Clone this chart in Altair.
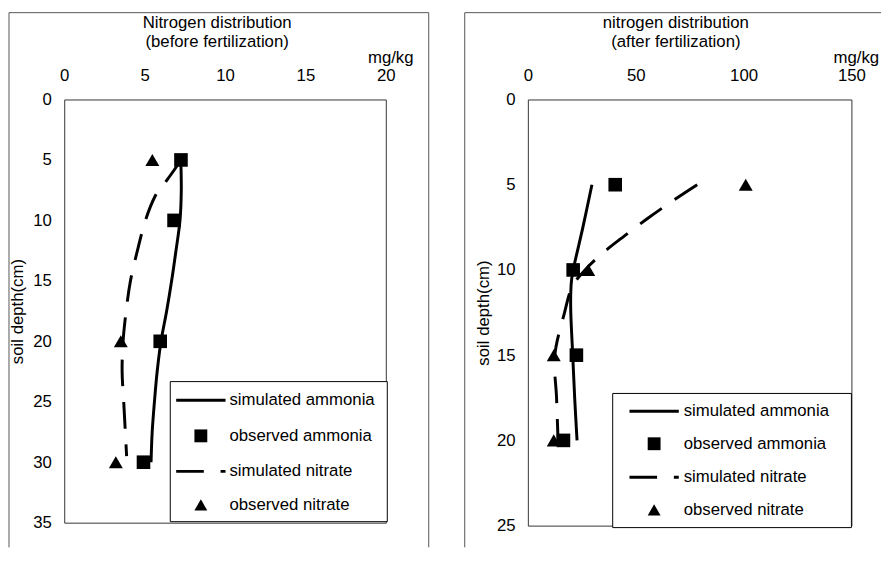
import altair as alt
import pandas as pd

FONT = "Liberation Sans"
FS = 17

# ---------------- data: left panel (before fertilization) ----------------
L_OBS_NH4_DEPTH = [5, 10, 20, 30]
L_OBS_NH4 = [7.26, 6.83, 5.97, 4.93]
L_OBS_NO3_DEPTH = [5, 20, 30]
L_OBS_NO3 = [5.48, 3.52, 3.21]
L_SIM_NH4_DEPTH = [5, 7.5, 10, 12.5, 15, 17.5, 20, 22.5, 25, 27.5, 30]
L_SIM_NH4 = [7.25, 7.28, 7.2, 6.95, 6.68, 6.37, 6.02, 5.78, 5.61, 5.47, 5.4]
L_SIM_NO3_DEPTH = [5, 6, 7, 8, 10, 12.5, 15, 17.5, 20, 22.5, 25, 27.5, 29.5]
L_SIM_NO3 = [7.25, 6.75, 6.2, 5.65, 5.05, 4.55, 4.12, 3.85, 3.66, 3.6, 3.7, 3.8, 3.88]
L_X_TICKS = [0, 5, 10, 15, 20]
L_Y_TICKS = [0, 5, 10, 15, 20, 25, 30, 35]
L_TITLE = ["Nitrogen distribution", "(before fertilization)"]

# ---------------- data: right panel (after fertilization) ----------------
R_OBS_NH4_DEPTH = [5, 10, 15, 20]
R_OBS_NH4 = [40.5, 21, 22.5, 16.5]
R_OBS_NO3_DEPTH = [5, 10, 15, 20]
R_OBS_NO3 = [101, 28, 12, 12]
R_SIM_NH4_DEPTH = [5, 7.5, 10, 11, 12.5, 15, 17.5, 20]
R_SIM_NH4 = [29.7, 25.5, 21, 20, 19.9, 20.8, 21.7, 22.8]
R_SIM_NO3_DEPTH = [5, 6, 7, 8, 9, 10, 11, 12.5, 15, 17.5, 20]
R_SIM_NO3 = [78.5, 66.5, 55.3, 44.8, 34.8, 26.5, 20.5, 17, 12.5, 13.3, 14]
R_X_TICKS = [0, 50, 100, 150]
R_Y_TICKS = [0, 5, 10, 15, 20, 25]
R_TITLE = ["nitrogen distribution", "(after fertilization)"]

UNIT = "mg/kg"
Y_TITLE = "soil depth(cm)"
LEGEND_LABELS = ["simulated ammonia", "observed ammonia", "simulated nitrate", "observed nitrate"]

DASH = [27, 16]
DUMMY = alt.Data(values=[{"d": 0}])


def frame(x, x2, y, y2):
    enc = dict(x=alt.value(x), y=alt.value(y))
    if x2 is not None:
        enc["x2"] = alt.value(x2)
    if y2 is not None:
        enc["y2"] = alt.value(y2)
    return alt.Chart(DUMMY).mark_rule(color="#555", strokeWidth=1).encode(**enc)


def panel(g, title, sim_nh4, sim_no3, obs_nh4, obs_no3, x_max, x_ticks, y_max, y_ticks, w, h):
    xs = alt.Scale(domain=[0, x_max], nice=False, zero=True)
    ys = alt.Scale(domain=[0, y_max], nice=False, reverse=True)
    xax = alt.Axis(orient="top", values=x_ticks, title=None, grid=False, domain=False,
                   ticks=False, labelPadding=15, labelFontSize=FS, labelFont=FONT,
                   labelColor="black", labelFlush=False)
    yax = alt.Axis(orient="left", values=y_ticks, title=Y_TITLE, grid=False, domain=False,
                   ticks=False, labelPadding=13, labelFontSize=FS, labelFont=FONT,
                   labelColor="black", titleFont=FONT, titleFontSize=FS,
                   titleFontWeight="normal", titleColor="black", titlePadding=g["tpad"],
                   labelFlush=False)

    def enc(ch):
        return ch.encode(x=alt.X("x:Q", scale=xs, axis=xax),
                         y=alt.Y("depth:Q", scale=ys, axis=yax))

    df_sn = pd.DataFrame({"x": sim_nh4[1], "depth": sim_nh4[0]})
    df_so = pd.DataFrame({"x": sim_no3[1], "depth": sim_no3[0]})
    df_on = pd.DataFrame({"x": obs_nh4[1], "depth": obs_nh4[0]})
    df_oo = pd.DataFrame({"x": obs_no3[1], "depth": obs_no3[0]})

    layers = []
    layers += g["frame"]
    layers.append(enc(alt.Chart(df_sn).mark_line(color="black", strokeWidth=3,
                                                   interpolate="cardinal")).encode(order="depth:Q"))
    layers.append(enc(alt.Chart(df_so).mark_line(color="black", strokeWidth=3, strokeDash=DASH,
                                                   interpolate="cardinal")).encode(order="depth:Q"))
    layers.append(enc(alt.Chart(df_on).mark_point(shape="square", filled=True, size=190,
                                                    color="black", opacity=1)))
    layers.append(enc(alt.Chart(df_oo).mark_point(shape="triangle-up", filled=True, size=200,
                                                    color="black", opacity=1)))
    lx0, lx1, ly0, ly1 = g["legbox"]
    layers.append(alt.Chart(DUMMY).mark_rect(fill="white", stroke="black", strokeWidth=1).encode(
        x=alt.value(lx0), x2=alt.value(lx1), y=alt.value(ly0), y2=alt.value(ly1)))
    sx0, sx1 = g["legline"]
    scx = g["legsym"]
    tx = g["legtext"]
    for i, (lab, ry) in enumerate(zip(LEGEND_LABELS, g["legrows"])):
        if i == 0:
            layers.append(alt.Chart(DUMMY).mark_rule(color="black", strokeWidth=3).encode(
                x=alt.value(sx0), x2=alt.value(sx1), y=alt.value(ry)))
        elif i == 2:
            layers.append(alt.Chart(DUMMY).mark_rule(color="black", strokeWidth=3,
                                                     strokeDash=[28, 17]).encode(
                x=alt.value(sx0), x2=alt.value(sx1), y=alt.value(ry)))
        else:
            shp = "square" if i == 1 else "triangle-up"
            layers.append(alt.Chart(DUMMY).mark_point(shape=shp, filled=True, size=170,
                                                      color="black", opacity=1).encode(
                x=alt.value(scx), y=alt.value(ry)))
        layers.append(alt.Chart(DUMMY).mark_text(text=lab, align="left", baseline="middle",
                                                 font=FONT, fontSize=FS, color="black").encode(
            x=alt.value(tx), y=alt.value(ry)))
    for line, ty in zip(title, g["titley"]):
        layers.append(alt.Chart(DUMMY).mark_text(text=line, align="center", baseline="alphabetic",
                                                 font=FONT, fontSize=FS, color="black").encode(
            x=alt.value(g["titlex"]), y=alt.value(ty)))
    ux, uy = g["unit"]
    layers.append(alt.Chart(DUMMY).mark_text(text=UNIT, align="center", baseline="alphabetic",
                                             font=FONT, fontSize=FS, color="black").encode(
        x=alt.value(ux), y=alt.value(uy)))
    return alt.layer(*layers).properties(width=w, height=h)


g_left = dict(
    frame=[frame(-56, 369.5, -88, None), frame(-56, None, -88, 454), frame(369.5, None, -88, 454)],
    tpad=6,
    legbox=(107.5, 327.5, 286, 428),
    legrows=[305, 341, 377, 411],
    legline=(113.5, 163.5),
    legsym=138.5,
    legtext=167.5,
    titlex=155,
    titley=[-72, -53],
    unit=(331, -37),
)
g_right = dict(
    frame=[frame(-64, 358, -88, None), frame(-64, None, -88, 454)],
    tpad=4,
    legbox=(86, 328, 298, 434),
    legrows=[316, 349, 383, 416],
    legline=(103, 153),
    legsym=128,
    legtext=158,
    titlex=150,
    titley=[-72, -53],
    unit=(333, -37),
)

left = panel(g_left, L_TITLE, (L_SIM_NH4_DEPTH, L_SIM_NH4), (L_SIM_NO3_DEPTH, L_SIM_NO3),
             (L_OBS_NH4_DEPTH, L_OBS_NH4), (L_OBS_NO3_DEPTH, L_OBS_NO3),
             20, L_X_TICKS, 35, L_Y_TICKS, 326, 429)
right = panel(g_right, R_TITLE, (R_SIM_NH4_DEPTH, R_SIM_NH4), (R_SIM_NO3_DEPTH, R_SIM_NO3),
              (R_OBS_NH4_DEPTH, R_OBS_NH4), (R_OBS_NO3_DEPTH, R_OBS_NO3),
              150, R_X_TICKS, 25, R_Y_TICKS, 328, 432)

chart = alt.hconcat(left, right, spacing=34).resolve_scale(x="independent", y="independent").properties(
    padding=0, background="white"
).configure_view(stroke="#333", strokeWidth=1)

chart.save("out.html", embed_options={"renderer": "svg", "actions": False})
